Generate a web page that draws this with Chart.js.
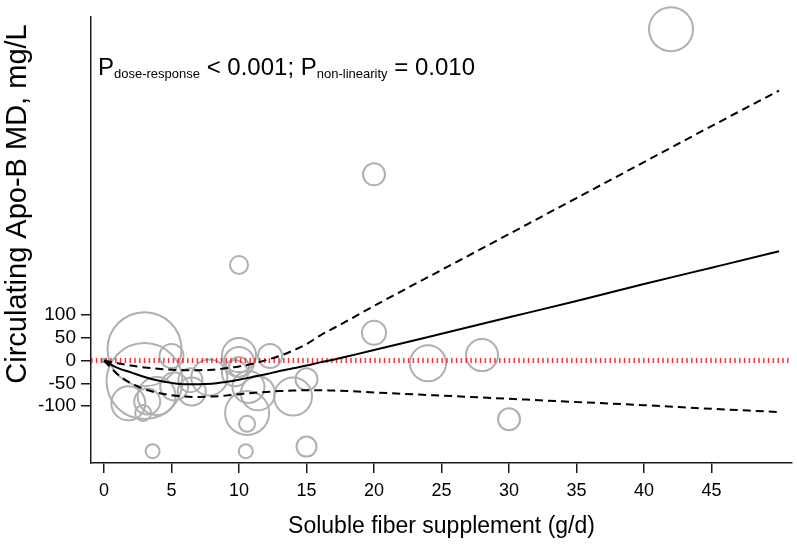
<!DOCTYPE html>
<html>
<head>
<meta charset="utf-8">
<script src="https://cdn.jsdelivr.net/npm/chart.js@4"></script>
<style>
  html, body { margin: 0; padding: 0; background: #ffffff; }
  canvas { display: block; }
</style>
</head>
<body>
<canvas id="c" width="797" height="545"></canvas>
<script>
// ---- data ----
const xTicks = [0, 5, 10, 15, 20, 25, 30, 35, 40, 45];
const yTicks = [-100, -50, 0, 50, 100];

// study bubbles: dose (g/d), mean difference (mg/L), bubble size (weight)
const studyX = [42, 20, 10, 20, 24, 28, 30, 15, 3.6, 10.5, 10.6, 3, 3, 5, 1.8, 2.9, 3.2, 3.9, 5.2, 6.5, 6.4, 7.8, 10, 10, 10, 9.7, 10.6, 10.7, 11.4, 12.3, 14, 15, 0];
const studyY = [728, 409, 210, 61, -6, 12, -129, -189, -199, -199, -139, 25, -45, 10, -94, -115, -90, -78, -57, -68, -43, -37, 12, -3, -14, -28, -115, -58, -72, 10, -79, -41, 0];
const studyW = [22, 11, 9, 12, 18, 16, 11, 10, 7, 7, 8, 37, 38, 12, 17, 8, 13, 19, 14, 14, 12, 18, 17, 15, 10, 13, 22, 16, 17, 12, 19, 11, 2];

// dose-response curve and confidence bounds
const curveX = [0, 1, 2, 3, 4, 5, 6, 7, 8, 9, 10, 11, 12, 13, 14, 15, 16, 17, 18, 20, 25, 30, 35, 40, 45, 50];
const fitY   = [0, -16, -26, -36, -44, -49, -52, -52, -51, -47, -42, -36, -30, -23, -17, -11, -4, 2, 9, 23, 59, 95, 131, 168, 204, 240];
const upperY = [0, -6, -11, -15, -18, -20, -21, -21, -20, -17, -13, -7, 1, 10, 22, 36, 55, 71, 87, 120, 199, 278, 357, 436, 515, 593];
const lowerY = [0, -30, -50, -63, -71, -76, -79, -80, -79, -77, -74, -71, -69, -67, -66, -65, -65, -66, -67, -70, -77, -84, -91, -98, -106, -113];

const refX = [-0.96, 50.8];
const refY = [0, 0];

const X_MIN = -0.963, X_MAX = 50.96, Y_MIN = -225, Y_MAX = 756;

// ---- build datasets ----
const pts = (xs, ys) => xs.map((x, i) => ({ x: x, y: ys[i] }));
const bubbles = studyX.map((x, i) => ({ x: x, y: studyY[i], r: studyW[i] }));

const FONT = "'Liberation Sans', Arial, Helvetica, sans-serif";
const AX = '#1a1a1a';

const textPlugin = {
  id: 'textPlugin',
  afterDraw(chart) {
    const ctx = chart.ctx;
    ctx.save();
    ctx.fillStyle = '#000';
    ctx.textBaseline = 'alphabetic';
    ctx.textAlign = 'left';
    const parts = [
      ['P', 24, 0], ['dose-response', 13, 3], [' < 0.001; P', 24, 0], ['non-linearity', 13, 3], [' = 0.010', 24, 0]
    ];
    let x = 98;
    const base = 75;
    for (const [t, s, dy] of parts) {
      ctx.font = s + 'px ' + FONT;
      ctx.fillText(t, x, base + dy);
      x += ctx.measureText(t).width;
    }
    // y-axis title
    ctx.translate(18, 204);
    ctx.rotate(-Math.PI / 2);
    ctx.font = '29px ' + FONT;
    ctx.textAlign = 'center';
    ctx.textBaseline = 'middle';
    ctx.fillText('Circulating Apo-B MD, mg/L', 0, 0);
    ctx.restore();
  }
};

new Chart(document.getElementById('c'), {
  type: 'bubble',
  data: {
    datasets: [
      { type: 'line', data: pts(curveX, fitY), borderColor: '#000', borderWidth: 2, pointRadius: 0, cubicInterpolationMode: 'monotone', order: 1 },
      { type: 'line', data: pts(curveX, upperY), borderColor: '#000', borderWidth: 2, borderDash: [8, 5], pointRadius: 0, cubicInterpolationMode: 'monotone', order: 1 },
      { type: 'line', data: pts(curveX, lowerY), borderColor: '#000', borderWidth: 2, borderDash: [8, 5], pointRadius: 0, cubicInterpolationMode: 'monotone', order: 1 },
      { type: 'line', data: pts(refX, refY), borderColor: 'rgba(255,0,0,0.8)', borderWidth: 5, borderDash: [1.5, 3.3], pointRadius: 0, order: 2 },
      { type: 'bubble', data: bubbles, backgroundColor: 'rgba(0,0,0,0)', borderColor: '#b0b0b0', borderWidth: 2, clip: false, order: 3 }
    ]
  },
  options: {
    responsive: false,
    animation: false,
    events: [],
    layout: { autoPadding: false, padding: { left: 0, right: 5, top: 16, bottom: 0 } },
    plugins: { legend: { display: false }, tooltip: { enabled: false } },
    scales: {
      x: {
        type: 'linear', min: X_MIN, max: X_MAX,
        afterBuildTicks: s => { s.ticks = xTicks.map(v => ({ value: v })); },
        afterFit: s => { s.height = 82; },
        grid: { drawOnChartArea: false, drawTicks: true, tickLength: 10, color: AX, lineWidth: 1.5 },
        border: { display: true, color: AX, width: 1.5 },
        ticks: { color: '#000', font: { family: FONT, size: 18 }, padding: 7, maxRotation: 0, autoSkip: false },
        title: { display: true, text: 'Soluble fiber supplement (g/d)', color: '#000', font: { family: FONT, size: 23 }, padding: { top: 0, bottom: 5 } }
      },
      y: {
        type: 'linear', min: Y_MIN, max: Y_MAX,
        afterBuildTicks: s => { s.ticks = yTicks.map(v => ({ value: v })); },
        afterFit: s => { s.width = 91; },
        grid: { drawOnChartArea: false, drawTicks: true, tickLength: 10, color: AX, lineWidth: 1.5 },
        border: { display: true, color: AX, width: 1.5 },
        ticks: { color: '#000', font: { family: FONT, size: 19 }, padding: 5, autoSkip: false },
        title: { display: false }
      }
    }
  },
  plugins: [textPlugin]
});
</script>
</body>
</html>
